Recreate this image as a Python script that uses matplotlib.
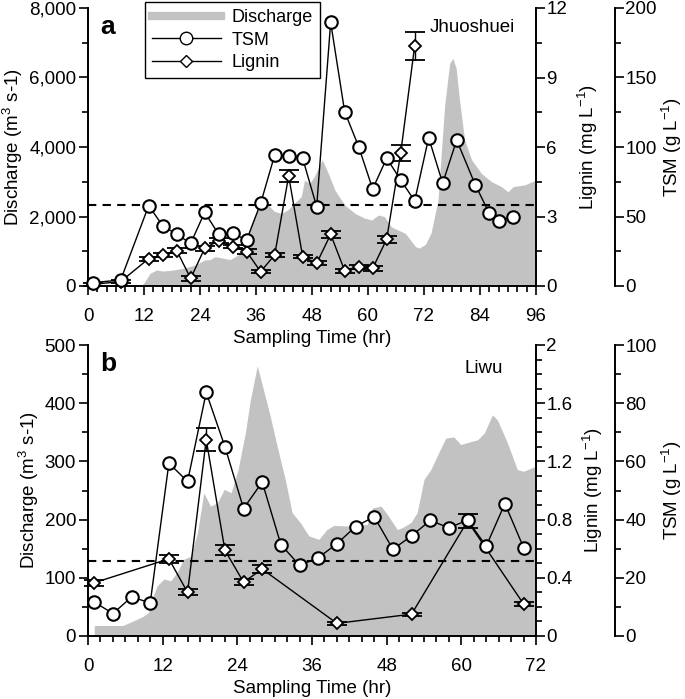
import matplotlib
matplotlib.use("Agg")
import matplotlib.pyplot as plt
from matplotlib.lines import Line2D
from matplotlib.ticker import MultipleLocator, FuncFormatter

plt.rcParams['font.family'] = ['Liberation Sans', 'DejaVu Sans']
plt.rcParams['mathtext.fontset'] = 'custom'
plt.rcParams['mathtext.rm'] = 'Liberation Sans'
plt.rcParams['mathtext.it'] = 'Liberation Sans:italic'
plt.rcParams['mathtext.default'] = 'regular'

# ---- panel a : Jhuoshuei ----
time_q_a = [0, 11.5, 12.3, 13.3, 14.7, 16.1, 18.3, 20.4, 22.9, 25, 26.2, 27.2, 29, 30.5,
            32.7, 34.1, 35.6, 37, 37.8, 39.9, 41.4, 42.8, 44.2, 45.7, 46.4, 47.5, 48.5,
            50.2, 51.5, 52.9, 55, 57.2, 59.3, 60.8, 62.2, 63.5, 65, 68, 70.2, 71, 72.3,
            73.5, 75, 76.4, 77.5, 78.2, 78.9, 79.6, 80.7, 82.2, 84.3, 86.5, 88.6, 90,
            91.1, 93.6, 96]
discharge_a = [0, 0, 150, 365, 460, 430, 460, 510, 600, 750, 760, 845, 800, 760,
               940, 1420, 1995, 2300, 2450, 2150, 2090, 2190, 2380, 2570, 3050, 2950, 3150,
               3630, 3240, 2760, 2330, 2090, 1950, 1900, 2040, 2000, 1700, 1516, 1130, 1090, 1200,
               1520, 2470, 5160, 6410, 6550, 6260, 5350, 4200, 3630, 3240, 3000, 2860, 2710,
               2860, 2910, 3050]

time_tsm_a = [1, 7, 13, 16, 19, 22, 25, 28, 31, 34, 37, 40, 43, 46, 49, 52, 55, 58,
              61, 64, 67, 70, 73, 76, 79, 83, 86, 88, 91]
tsm_a = [2.4, 4.3, 57.8, 43.4, 37.2, 30.7, 53, 37.2, 37.9, 33.1, 59.5, 94.2, 93.8, 91.8,
         57.1, 189.7, 125.4, 100.2, 69.8, 91.9, 76.3, 61.2, 106.7, 73.9, 105, 72.7, 52.3,
         46.8, 49.9]

time_lig_a = [1, 7, 13, 16, 19, 22, 25, 28, 31, 34, 37, 40, 43, 46, 49, 52, 55, 58, 61,
              64, 67, 70]
lignin_a = [0.07, 0.19, 1.18, 1.34, 1.53, 0.33, 1.63, 1.96, 1.70, 1.48, 0.62, 1.34, 4.75,
            1.27, 0.98, 2.23, 0.66, 0.83, 0.76, 2.02, 5.73, 10.36]
lignin_err_a = [0.05, 0.05, 0.08, 0.08, 0.1, 0.1, 0.1, 0.1, 0.08, 0.1, 0.08, 0.1, 0.27,
                0.08, 0.08, 0.15, 0.08, 0.08, 0.1, 0.15, 0.35, 0.6]
threshold_a = 2330

# ---- panel b : Liwu ----
time_q_b = [1, 5.6, 7.3, 8.9, 9.7, 10.5, 11.1, 12.2, 13.3, 14.3, 15.4, 16.5, 17.6, 18.6,
            19.7, 20.8, 21.9, 23, 24.1, 25.3, 26.1, 27.2, 28.2, 29.3, 30.4, 31.7, 32.8,
            34.1, 35.5, 37.1, 38.4, 39.5, 41.6, 43.8, 44.9, 45.7, 47.1, 48.1, 49.7, 50.5,
            51.9, 52.9, 54, 55.1, 56.1, 57.5, 58.8, 59.9, 61.5, 62.6, 63.7, 65, 65.8, 67.4,
            69, 70, 72]
discharge_b = [18, 18, 26, 34, 40, 69, 86, 98, 95, 109, 132, 137, 178, 246,
               223, 229, 252, 246, 285, 350, 406, 464, 423, 377, 326, 269, 212,
               195, 172, 166, 183, 190, 189, 190, 192, 220, 223, 209, 183, 186,
               195, 212, 269, 286, 309, 340, 342, 329, 334, 337, 349, 380, 371, 332,
               286, 283, 292]

time_tsm_b = [1, 4, 7, 10, 13, 16, 19, 22, 25, 28, 31, 34, 37, 40, 43, 46, 49, 52, 55,
              58, 61, 64, 67, 70]
tsm_b = [11.7, 7.7, 13.4, 11.4, 59.4, 53.1, 83.7, 65.1, 43.8, 52.9, 31.4, 24.3, 26.9,
         31.7, 37.6, 41.0, 29.8, 34.4, 39.7, 37.2, 39.8, 30.9, 45.5, 30.4]

time_lig_b = [1, 13, 16, 19, 22, 25, 28, 40, 52, 61, 70]
lignin_b = [0.366, 0.53, 0.30, 1.35, 0.59, 0.37, 0.46, 0.087, 0.15, 0.79, 0.22]
lignin_err_b = [0.02, 0.03, 0.02, 0.08, 0.035, 0.02, 0.025, 0.01, 0.01, 0.05, 0.015]
threshold_b = 129

GRAY = '#c2c2c2'
FS = 13.5


def style_ticks(a):
    a.tick_params(axis='both', which='major', direction='out', length=6.5, width=1.2,
                  labelsize=FS)
    a.tick_params(axis='both', which='minor', direction='out', length=4, width=1.2)
    for s in a.spines.values():
        s.set_linewidth(1.4)


def panel(rect, tq, q, tt, tsm, tl, lig, lerr, thr, xmax, qmax, qstep, lmax, lstep,
          tmax, tstep, letter, river, qfmt):
    ax = fig.add_axes(rect)
    ax.set_facecolor('none')
    ax.fill_between(tq, q, 0, color=GRAY, lw=0, zorder=1)
    ax.axhline(thr, color='k', ls=(0, (4, 3)), lw=1.5, zorder=2)
    ax.set_xlim(0, xmax)
    ax.set_ylim(0, qmax)
    ax.xaxis.set_major_locator(MultipleLocator(12))
    ax.xaxis.set_minor_locator(MultipleLocator(2))
    ax.yaxis.set_major_locator(MultipleLocator(qstep))
    ax.yaxis.set_minor_locator(MultipleLocator(qstep / 2))
    ax.yaxis.set_major_formatter(FuncFormatter(qfmt))
    ax.spines['top'].set_visible(False)
    ax.spines['right'].set_visible(False)
    style_ticks(ax)
    ax.tick_params(axis='x', which='major', pad=9)
    ax.tick_params(axis='y', which='major', pad=2)
    ax.set_xlabel('Sampling Time (hr)', fontsize=FS, labelpad=4)
    ax.set_ylabel('Discharge (m$^3$ s-1)', fontsize=FS, labelpad=3)

    axl = ax.twinx()
    axl.set_ylim(0, lmax)
    axl.yaxis.set_major_locator(MultipleLocator(lstep))
    axl.yaxis.set_minor_locator(MultipleLocator(lstep / 4 if lmax < 5 else lstep / 2))
    axl.yaxis.set_major_formatter(FuncFormatter(lambda v, p: '%g' % round(v, 2)))
    for s in ['top', 'left', 'bottom']:
        axl.spines[s].set_visible(False)
    style_ticks(axl)
    axl.tick_params(axis='y', which='major', pad=1)
    axl.set_ylabel('Lignin (mg L$^{-1}$)', fontsize=FS, labelpad=6)
    axl.errorbar(tl, lig, yerr=lerr, color='k', lw=1.0, marker='D', ms=6,
                 mfc='white', mec='k', mew=1.3, capsize=7, capthick=1.0,
                 elinewidth=1.0, zorder=3, clip_on=False)

    axt = ax.twinx()
    axt.set_ylim(0, tmax)
    axt.yaxis.set_major_locator(MultipleLocator(tstep))
    axt.yaxis.set_minor_locator(MultipleLocator(tstep / 2))
    axt.spines['right'].set_position(('axes', 1.176))
    for s in ['top', 'left', 'bottom']:
        axt.spines[s].set_visible(False)
    style_ticks(axt)
    axt.tick_params(axis='y', which='major', pad=1)
    axt.set_ylabel('TSM (g L$^{-1}$)', fontsize=FS, labelpad=2)
    axt.plot(tt, tsm, color='k', lw=1.0, marker='o', ms=9, mfc='white', mec='k',
             mew=1.5, zorder=4, clip_on=False)

    ax.text(0.027, 0.975, letter, transform=ax.transAxes, fontsize=19,
            fontweight='bold', ha='left', va='top')
    axt.text(river[1], river[2], river[0], transform=ax.transAxes, fontsize=FS,
             ha='right', va='center')
    return ax, axl, axt


fig = plt.figure(figsize=(6.85, 6.99), dpi=100)

ax_a, axl_a, axt_a = panel([88 / 685, 1 - 286 / 699, 448 / 685, 278 / 699],
                           time_q_a, discharge_a, time_tsm_a, tsm_a, time_lig_a,
                           lignin_a, lignin_err_a, threshold_a, 96, 8000, 2000, 12, 3,
                           200, 50, 'a', ('Jhuoshuei', 0.953, 0.93),
                           lambda v, p: '{:,.0f}'.format(v))

ax_b, axl_b, axt_b = panel([88 / 685, 1 - 636 / 699, 448 / 685, 291 / 699],
                           time_q_b, discharge_b, time_tsm_b, tsm_b, time_lig_b,
                           lignin_b, lignin_err_b, threshold_b, 72, 500, 100, 2, 0.4,
                           100, 20, 'b', ('Liwu', 0.926, 0.92),
                           lambda v, p: '%d' % v)

handles = [Line2D([], [], color=GRAY, lw=6),
           Line2D([], [], color='k', lw=1.0, marker='o', ms=9, mfc='white', mec='k',
                  mew=1.0),
           Line2D([], [], color='k', lw=1.0, marker='D', ms=6, mfc='white', mec='k',
                  mew=1.0)]
leg = axt_a.legend(handles, ['Discharge', 'TSM', 'Lignin'], loc='upper left',
                   bbox_to_anchor=(0.127, 1.022), borderaxespad=0, fontsize=13,
                   frameon=True, fancybox=False, edgecolor='k', framealpha=1,
                   handlelength=3.8, labelspacing=0.3, borderpad=0.4,
                   handletextpad=0.6)
leg.get_frame().set_linewidth(1.0)
leg.set_zorder(10)

fig.savefig('out.png', dpi=100)
